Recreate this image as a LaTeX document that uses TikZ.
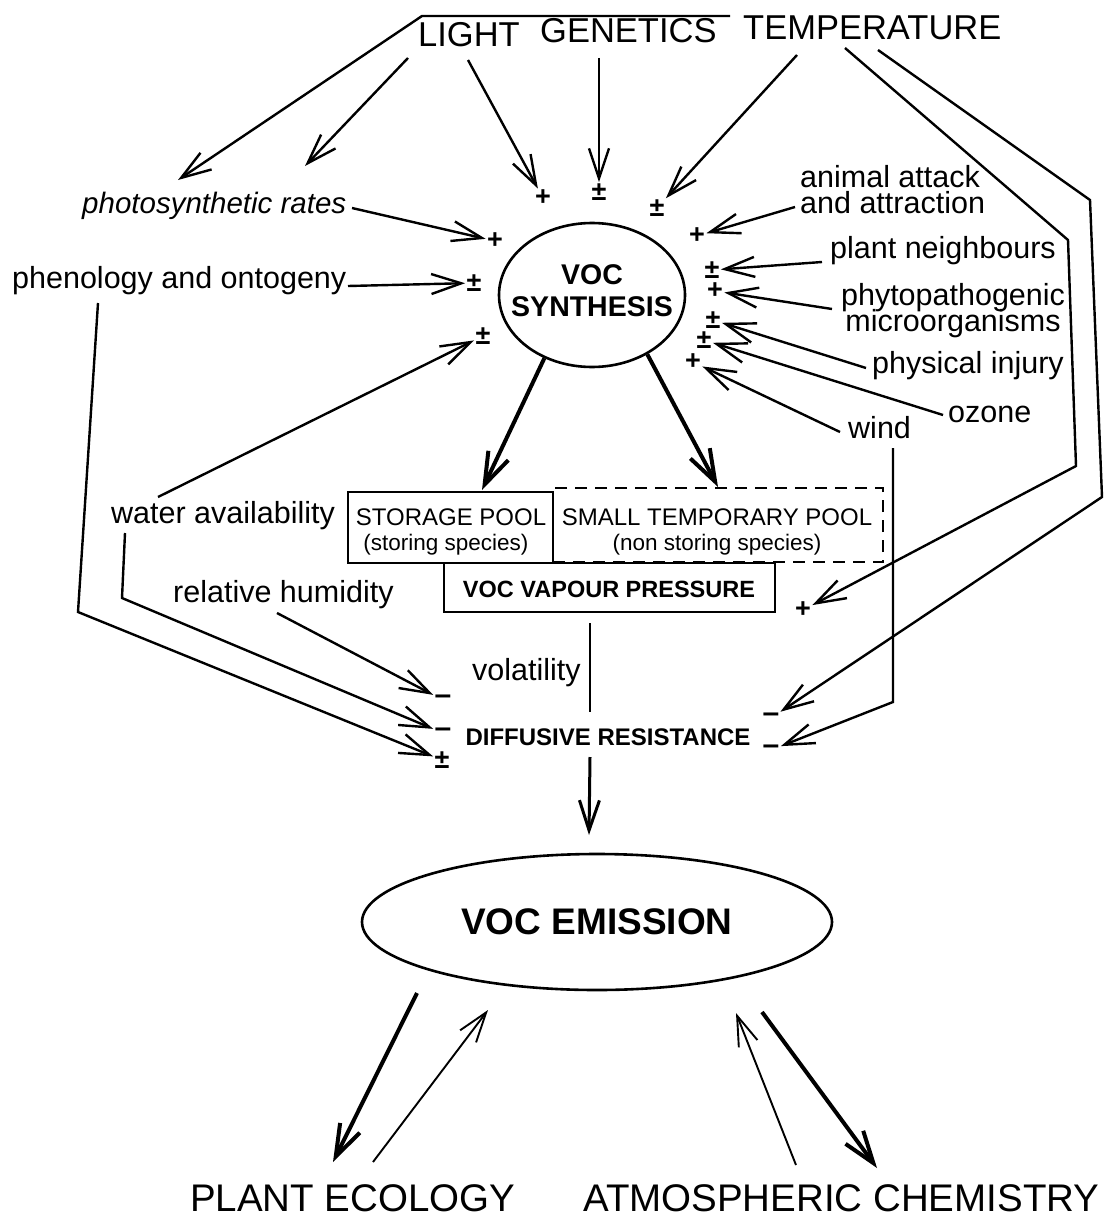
\documentclass[tikz,border=0pt]{standalone}
\usepackage{fontspec}
\setmainfont{Liberation Sans}
\usetikzlibrary{arrows.meta,shapes.geometric}
\setlength{\lineskiplimit}{-60pt}
\begin{document}
\begin{tikzpicture}[x=1pt,y=-1pt,
  arr/.style={line width=2.4pt,-{Straight Barb[length=30pt,width=20pt]}},
  thinarr/.style={line width=1.9pt,-{Straight Barb[length=30pt,width=20pt]}},
  thickarr/.style={line width=4pt,-{Straight Barb[length=32pt,width=22pt]}},
  ln/.style={line width=2.4pt},
  big/.style={font=\fontsize{34.5}{38}\selectfont,inner sep=0,anchor=base west},
  lab/.style={font=\fontsize{30.5}{33}\selectfont,inner sep=0,anchor=base west},
  lab2/.style={font=\fontsize{30.5}{26.5}\selectfont,inner sep=0},
  ilab/.style={font=\itshape\fontsize{29.5}{33}\selectfont,inner sep=0,anchor=base west},
  sgn/.style={font=\bfseries\fontsize{27}{27}\selectfont,inner sep=0.5pt,outer sep=1pt},
  dsh/.style={font=\bfseries\fontsize{30}{30}\selectfont,inner sep=0.5pt,outer sep=1pt},
  boxt/.style={font=\fontsize{24}{26}\selectfont,inner sep=0,anchor=base},
  boxs/.style={font=\fontsize{22.5}{26}\selectfont,inner sep=0,anchor=base},
  boxb/.style={font=\bfseries\fontsize{23.5}{26}\selectfont,inner sep=0,anchor=base},
  bot/.style={font=\fontsize{38.5}{42}\selectfont,inner sep=0,anchor=base west},
  frame/.style={draw,line width=2.2pt,inner sep=0}
]
\fill[white] (0,0) rectangle (1119,1220);
\useasboundingbox (0,0) rectangle (1119,1220);

% ---- top labels
\node[big] (light) at (418,47) {LIGHT};
\node[big] (gen) at (540,43) {GENETICS};
\node[big] (temp) at (743,40) {TEMPERATURE};

% ---- side labels
\node[ilab] (photo) at (82,213) {photosynthetic rates};
\node[lab] (phen) at (12,288) {phenology and ontogeny};
\node[lab] (water) at (111,523) {water availability};
\node[lab] (hum) at (173,602) {relative humidity};
\node[lab] (vol) at (472,680) {volatility};
\node[lab2,align=left,anchor=north west] (anim) at (800,165) {animal attack\\and attraction};
\node[lab] (plant) at (830,258) {plant neighbours};
\node[lab2,align=center,anchor=north] (phyto) at (953,283) {phytopathogenic\\microorganisms};
\node[lab] (inj) at (872,373) {physical injury};
\node[lab] (ozone) at (948,422) {ozone};
\node[lab] (wind) at (848,438) {wind};

% ---- VOC synthesis
\node[ellipse,draw,line width=2.6pt,minimum width=186pt,minimum height=144pt,inner sep=0] (syn) at (592,295) {};
\node[font=\bfseries\fontsize{28.5}{32}\selectfont,align=center,inner sep=0] (syntxt) at (592,291) {VOC\\SYNTHESIS};

% ---- signs
\node[sgn] (s1) at (543,198) {+};
\node[sgn] (s2) at (599,192) {±};
\node[sgn] (s3) at (657,208) {±};
\node[sgn] (s4) at (495,241) {+};
\node[sgn] (s5) at (474,283) {±};
\node[sgn] (s6) at (483,336) {±};
\node[sgn] (s7) at (697,236) {+};
\node[sgn] (s8) at (712,270) {±};
\node[sgn] (s9) at (715,291) {+};
\node[sgn] (s10) at (713,320) {±};
\node[sgn] (s11) at (704,340) {±};
\node[sgn] (s12) at (693,362) {+};
\node[sgn] (s13) at (803,610) {+};
\node[dsh] (d1) at (443,700) {–};
\node[dsh] (d2) at (443,733) {–};
\node[sgn] (d3) at (442,760) {±};
\node[dsh] (d4) at (771,718) {–};
\node[dsh] (d5) at (771,750) {–};

% ---- boxes
\node[frame,minimum width=205pt,minimum height=71pt] (stor) at (450.5,527.5) {};
\node[frame,dash pattern=on 12pt off 8pt,minimum width=330pt,minimum height=74pt] (tpool) at (718,525) {};
\node[frame,minimum width=331pt,minimum height=49pt] (vap) at (609.5,587.5) {};
\node[boxt] (storT) at (451,525) {STORAGE POOL};
\node[boxs] (storS) at (446,550) {(storing species)};
\node[boxt] (tpT) at (717,525) {SMALL TEMPORARY POOL};
\node[boxs] (tpS) at (717,550) {(non storing species)};
\node[boxb] (vapT) at (609,597) {VOC VAPOUR PRESSURE};
\node[font=\bfseries\fontsize{24}{26}\selectfont,inner sep=0,anchor=base] (diff) at (608,745) {DIFFUSIVE RESISTANCE};

% ---- emission and bottom
\node[ellipse,draw,line width=2.6pt,minimum width=470pt,minimum height=136pt,inner sep=0,font=\bfseries\fontsize{37}{40}\selectfont] (emis) at (597,922) {VOC EMISSION};
\node[bot] (eco) at (190,1211) {PLANT ECOLOGY};
\node[bot] (atm) at (583,1211) {ATMOSPHERIC CHEMISTRY};

% ---- coordinates
\coordinate (tl0) at (730,16);
\coordinate (tl1) at (422,16);
\coordinate (photoA) at (178,180);
\coordinate (lp0) at (408,58);
\coordinate (photoB) at (305,166);
\coordinate (l0) at (468,60);
\coordinate (g0) at (599,58);
\coordinate (tt0) at (797,55);
\coordinate (ti0) at (845,48);
\coordinate (ti1) at (1068,240);
\coordinate (ti2) at (1076,466);
\coordinate (to0) at (878,50);
\coordinate (to1) at (1090,200);
\coordinate (to2) at (1102,497);
\coordinate (w0) at (893,448);
\coordinate (w1) at (893,702);
\coordinate (ph0) at (352,208);
\coordinate (pn0) at (348,286);
\coordinate (pn1) at (98,303);
\coordinate (pn2) at (78,612);
\coordinate (wa0) at (158,497);
\coordinate (wa1) at (125,533);
\coordinate (wa2) at (122,598);
\coordinate (rh0) at (277,613);
\coordinate (an0) at (795,207);
\coordinate (pl0) at (822,262);
\coordinate (py0) at (832,309);
\coordinate (in0) at (866,368);
\coordinate (oz0) at (943,415);
\coordinate (wi0) at (840,432);
\coordinate (stIn) at (482,490);
\coordinate (tpIn) at (718,487);
\coordinate (v1) at (590,623);
\coordinate (v2) at (590,712);
\coordinate (v3) at (590,757);
\coordinate (v4) at (589,835);
\coordinate (e1) at (417,993);
\coordinate (e2) at (333,1162);
\coordinate (e3) at (373,1162);
\coordinate (e4) at (488,1010);
\coordinate (a1) at (796,1165);
\coordinate (a2) at (736,1013);
\coordinate (a3) at (762,1012);
\coordinate (a4) at (877,1168);

% ---- top connectors
\draw[arr] (tl0) -- (tl1) -- (photoA);
\draw[arr] (lp0) -- (photoB);
\draw[arr] (l0) -- (s1);
\draw[arr] (g0) -- (s2);
\draw[arr] (tt0) -- (s3);
\draw[arr] (ti0) -- (ti1) -- (ti2) -- (s13);
\draw[arr] (to0) -- (to1) -- (to2) -- (d4);
\draw[arr] (w0) -- (w1) -- (d5);

% ---- left connectors
\draw[arr] (ph0) -- (s4);
\draw[arr] (pn0) -- (s5);
\draw[arr] (wa0) -- (s6);
\draw[arr] (wa1) -- (wa2) -- (d2);
\draw[arr] (pn1) -- (pn2) -- (d3);
\draw[arr] (rh0) -- (d1);

% ---- right connectors
\draw[arr] (an0) -- (s7);
\draw[arr] (pl0) -- (s8);
\draw[arr] (py0) -- (s9);
\draw[arr] (in0) -- (s10);
\draw[arr] (oz0) -- (s11);
\draw[arr] (wi0) -- (s12);

% ---- centre
\draw[thickarr] (syn.233) -- (stIn);
\draw[thickarr] (syn.313) -- (tpIn);
\draw[ln] (v1) -- (v2);
\draw[line width=3pt,-{Straight Barb[length=30pt,width=20pt]}] (v3) -- (v4);

% ---- bottom
\draw[thickarr] (e1) -- (e2);
\draw[thinarr] (e3) -- (e4);
\draw[thinarr] (a1) -- (a2);
\draw[thickarr] (a3) -- (a4);
\end{tikzpicture}
\end{document}
